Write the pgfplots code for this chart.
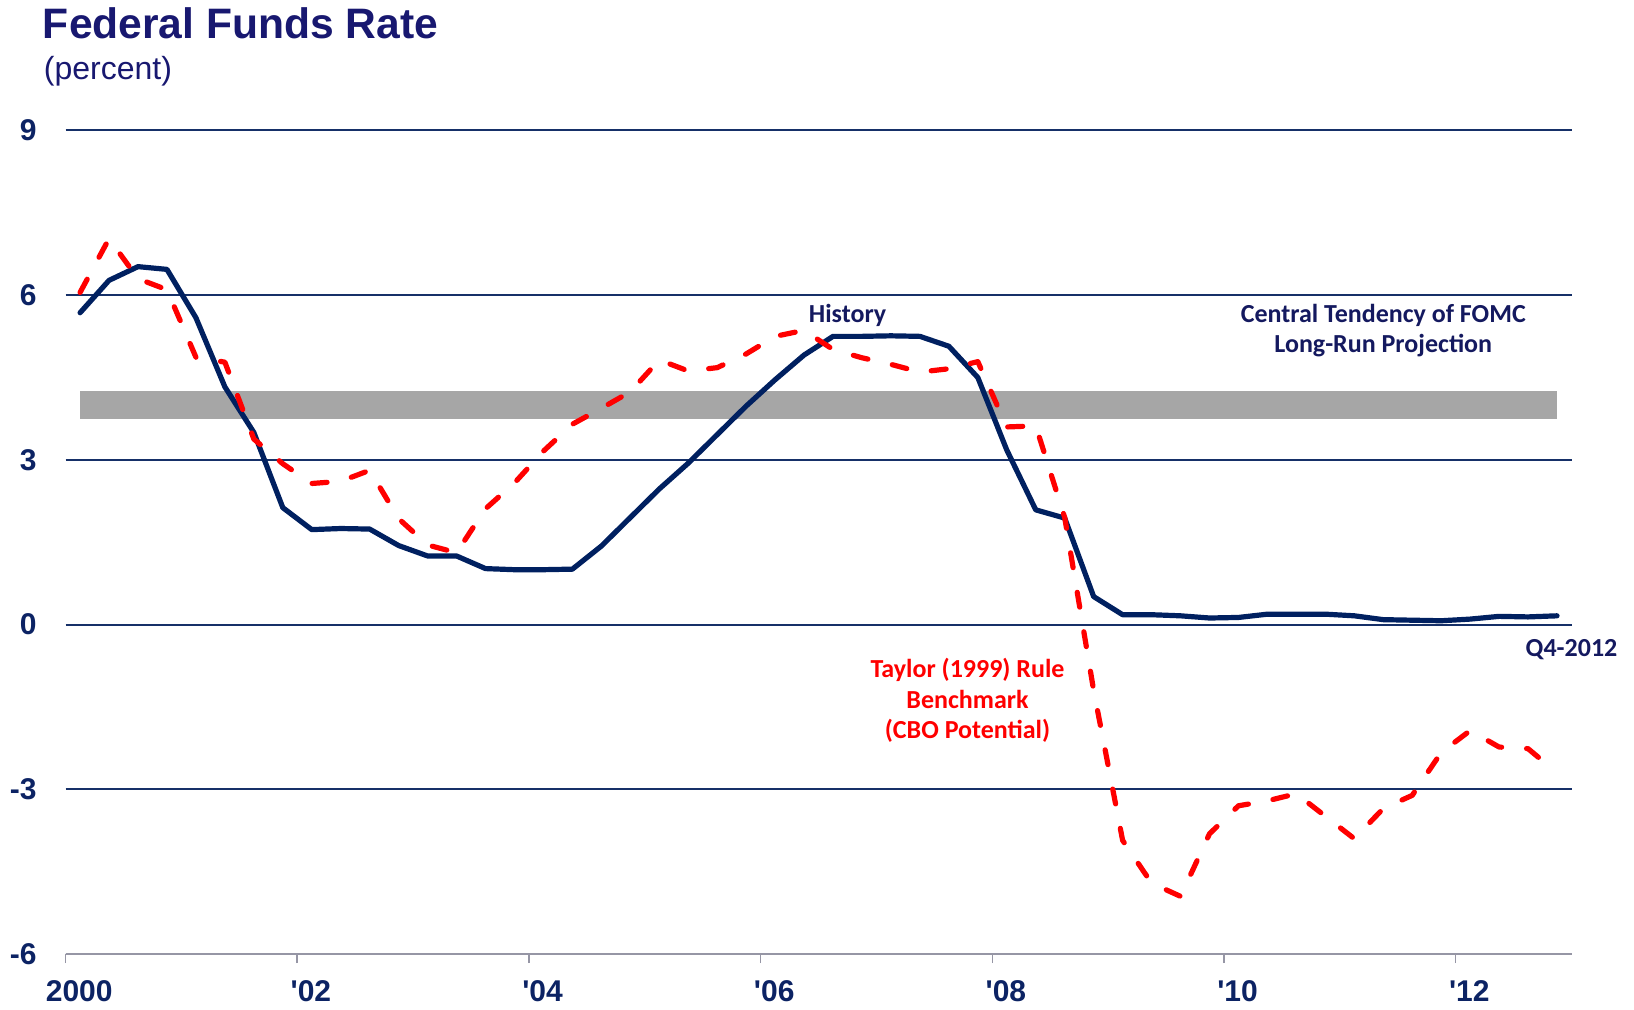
\documentclass[border=0pt]{standalone}
\usepackage{fontspec}
\setmainfont{Liberation Sans}
\newfontfamily\calfont{Carlito}
\usepackage{pgfplots}
\pgfplotsset{compat=1.18}
\definecolor{fedline}{RGB}{0,32,96}
\definecolor{gridnavy}{RGB}{22,48,104}
\definecolor{ticknavy}{RGB}{12,35,100}
\definecolor{titlenavy}{RGB}{24,24,112}
\definecolor{labnavy}{RGB}{20,25,95}
\definecolor{bandgray}{RGB}{166,166,166}
\definecolor{axisgray}{RGB}{150,150,165}
\definecolor{taylorred}{RGB}{255,0,0}
\begin{document}
\begin{tikzpicture}
\path[use as bounding box] (-32.8pt,-27.5pt) rectangle (784.2pt,477pt);
\begin{axis}[
  at={(0,0)}, anchor=south west,
  scale only axis, width=752.95pt, height=411.75pt,
  xmin=2000, xmax=2013, ymin=-6, ymax=9,
  clip=false,
  axis line style={draw=none},
  xtick={2000,2002,...,2012},
  xticklabels={2000,\textquotesingle02,\textquotesingle04,\textquotesingle06,\textquotesingle08,\textquotesingle10,\textquotesingle12},
  ytick={-6,-3,0,3,6,9},
  yticklabels={-6,-3,0,3,6,9},
  xtick pos=left, ytick pos=left,
  major tick length=4.5pt,
  xtick style={draw=axisgray, line width=0.8pt, yshift=-4.5pt},
  ytick style={draw=none},
  ymajorgrids,
  major grid style={draw=gridnavy, line width=1pt},
  /pgf/number format/assume math mode=true,
  xticklabel style={font=\bfseries\fontsize{15}{18}\selectfont, text=ticknavy, anchor=north, inner sep=0pt, yshift=-13.3pt, xshift=6.8pt},
  yticklabel style={font=\bfseries\fontsize{15}{18}\selectfont, text=ticknavy, anchor=east, inner sep=0pt, xshift=-14.3pt},
]
% central tendency band
\addplot[fill=bandgray, draw=none] coordinates {(2000.125,3.75) (2012.875,3.75) (2012.875,4.25) (2000.125,4.25)} -- cycle;
% bottom axis line
\addplot[draw=axisgray, line width=1pt] coordinates {(2000,-6) (2013,-6)};
% Federal funds rate history
\addplot[fedline, line width=2.6pt, line join=round, line cap=round] coordinates {
(2000.125,5.68) (2000.375,6.27) (2000.625,6.52) (2000.875,6.47)
(2001.125,5.59) (2001.375,4.33) (2001.625,3.50) (2001.875,2.13)
(2002.125,1.73) (2002.375,1.75) (2002.625,1.74) (2002.875,1.44)
(2003.125,1.25) (2003.375,1.25) (2003.625,1.02) (2003.875,1.00)
(2004.125,1.00) (2004.375,1.01) (2004.625,1.43) (2004.875,1.95)
(2005.125,2.47) (2005.375,2.94) (2005.625,3.46) (2005.875,3.98)
(2006.125,4.46) (2006.375,4.91) (2006.625,5.25) (2006.875,5.25)
(2007.125,5.26) (2007.375,5.25) (2007.625,5.07) (2007.875,4.50)
(2008.125,3.18) (2008.375,2.09) (2008.625,1.94) (2008.875,0.51)
(2009.125,0.18) (2009.375,0.18) (2009.625,0.16) (2009.875,0.12)
(2010.125,0.13) (2010.375,0.19) (2010.625,0.19) (2010.875,0.19)
(2011.125,0.16) (2011.375,0.09) (2011.625,0.08) (2011.875,0.07)
(2012.125,0.10) (2012.375,0.15) (2012.625,0.14) (2012.875,0.16)
};
% Taylor rule benchmark
\addplot[taylorred, line width=2.6pt, line join=round, line cap=round, dash pattern=on 7.5pt off 12.5pt] coordinates {
(2000.125,6.05) (2000.375,7.03) (2000.625,6.30) (2000.875,6.10)
(2001.125,4.87) (2001.375,4.78) (2001.625,3.38) (2001.875,2.93)
(2002.125,2.57) (2002.375,2.61) (2002.625,2.81) (2002.875,1.93)
(2003.125,1.45) (2003.375,1.31) (2003.625,2.11) (2003.875,2.58)
(2004.125,3.16) (2004.375,3.65) (2004.625,3.94) (2004.875,4.24)
(2005.125,4.82) (2005.375,4.62) (2005.625,4.68) (2005.875,4.93)
(2006.125,5.25) (2006.375,5.36) (2006.625,5.01) (2006.875,4.86)
(2007.125,4.74) (2007.375,4.60) (2007.625,4.66) (2007.875,4.79)
(2008.125,3.60) (2008.375,3.62) (2008.625,1.95) (2008.875,-1.20)
(2009.125,-3.93) (2009.375,-4.71) (2009.625,-4.95) (2009.875,-3.81)
(2010.125,-3.30) (2010.375,-3.21) (2010.625,-3.08) (2010.875,-3.49)
(2011.125,-3.90) (2011.375,-3.35) (2011.625,-3.11) (2011.875,-2.33)
(2012.125,-1.93) (2012.375,-2.23) (2012.625,-2.26) (2012.875,-2.70)
};
\node[font=\calfont\bfseries\fontsize{13}{15.5}\selectfont, text=labnavy, anchor=base, inner sep=0pt] at (axis cs:2006.75,5.51) {History};
\node[font=\calfont\bfseries\fontsize{13}{15.5}\selectfont, text=labnavy, anchor=base, inner sep=0pt] at (axis cs:2011.375,5.51) {Central Tendency of FOMC};
\node[font=\calfont\bfseries\fontsize{13}{15.5}\selectfont, text=labnavy, anchor=base, inner sep=0pt] at (axis cs:2011.375,4.95) {Long-Run Projection};
\node[font=\calfont\bfseries\fontsize{13}{15.5}\selectfont, text=labnavy, anchor=base, inner sep=0pt] at (axis cs:2013.0,-0.59) {Q4-2012};
\node[font=\calfont\bfseries\fontsize{13}{15.5}\selectfont, text=taylorred, anchor=base, inner sep=0pt] at (axis cs:2007.786,-0.97) {Taylor (1999) Rule};
\node[font=\calfont\bfseries\fontsize{13}{15.5}\selectfont, text=taylorred, anchor=base, inner sep=0pt] at (axis cs:2007.786,-1.53) {Benchmark};
\node[font=\calfont\bfseries\fontsize{13}{15.5}\selectfont, text=taylorred, anchor=base, inner sep=0pt] at (axis cs:2007.786,-2.08) {(CBO Potential)};
\end{axis}
\node[anchor=base west, inner sep=0pt, font=\bfseries\fontsize{21.3}{25}\selectfont, text=titlenavy] at (-11.5pt,457.5pt) {Federal Funds Rate};
\node[anchor=base west, inner sep=0pt, font=\fontsize{16}{19}\selectfont, text=titlenavy] at (-11pt,437pt) {(percent)};
\end{tikzpicture}
\end{document}
